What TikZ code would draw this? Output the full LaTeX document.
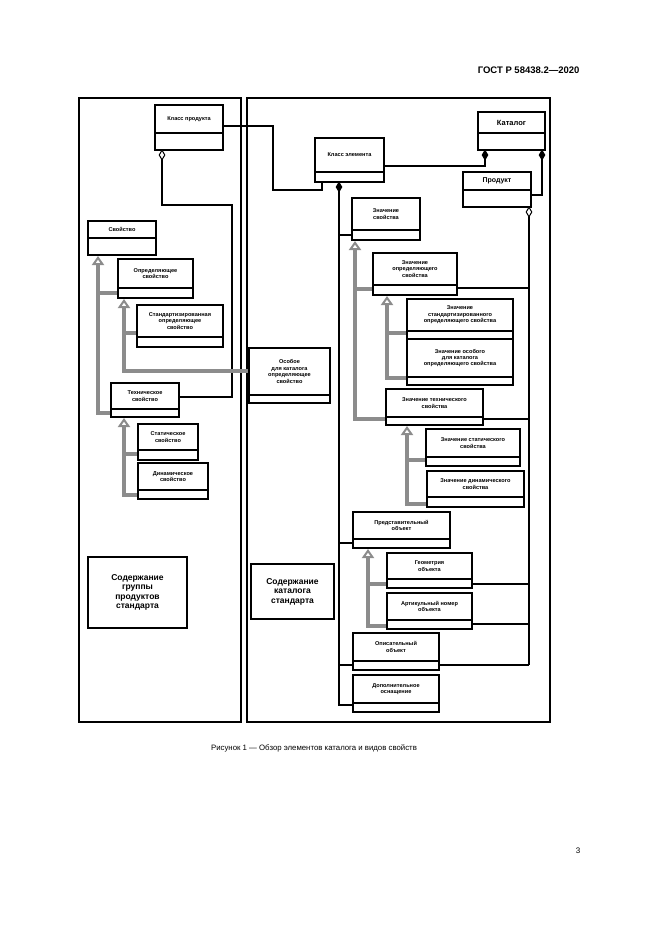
\documentclass[tikz,border=0pt]{standalone}
\usepackage{fontspec}
\setmainfont{Liberation Sans}
\usetikzlibrary{arrows.meta,shapes.geometric}
\begin{document}
\begin{tikzpicture}[x=1pt,y=-1pt,
  cls/.style={draw,line width=1.6pt,inner sep=0pt,fill=white},
  txt/.style={font=\bfseries\fontsize{5.6}{6.4}\selectfont,align=center,inner sep=0pt},
  frame/.style={draw,line width=1.6pt},
  ln/.style={line width=1.4pt},
  gen/.style={draw=black!45,line width=3.2pt,-{Triangle[open,length=9pt,width=12pt,line width=2pt]}},
  gl/.style={draw=black!45,line width=3.2pt},
  fd/.style={diamond,fill=black,draw,inner sep=0pt,minimum width=6pt,minimum height=10pt,line width=0.8pt},
  od/.style={diamond,fill=white,draw,inner sep=0pt,minimum width=6pt,minimum height=10pt,line width=1pt},
  big/.style={font=\bfseries\fontsize{8.5}{9.5}\selectfont,align=center}]
\useasboundingbox (0,0) rectangle (661,935);
\newcommand\ubox[7]{%
\node[cls,minimum width={(#4-#2)*1pt},minimum height={(#5-#3)*1pt}] (#1) at ({(#2+#4)/2},{(#3+#5)/2}) {};
\draw[line width=1.4pt] (#2,#6) -- (#4,#6);
\node[txt] at ({(#2+#4)/2},{(#3+#6)/2}) {#7};}
% header
\node[font=\bfseries\fontsize{9.5}{11}\selectfont,anchor=east] (hdr) at (583,70) {ГОСТ Р 58438.2—2020};
% frames
\node[frame,minimum width=162pt,minimum height=624pt,inner sep=0] (lf) at (160,410) {};
\node[frame,minimum width=303pt,minimum height=624pt,inner sep=0] (rf) at (398.5,410) {};
% connectors (drawn first)
\draw[ln] (223,126) -- (273,126) -- (273,190) -- (322,190) -- (322,182);
\draw[ln] (162,155) -- (162,205) -- (232,205) -- (232,397) -- (178,397);
\draw[ln] (485,155) -- (485,166) -- (384,166);
\draw[ln] (542,155) -- (542,195) -- (531,195);
\draw[ln] (339,182) -- (339,705) -- (353,705);
\draw[ln] (339,235) -- (352,235);
\draw[ln] (339,543) -- (353,543);
\draw[ln] (339,665) -- (529,665);
\draw[ln] (529,207) -- (529,665);
\draw[ln] (457,288) -- (529,288);
\draw[ln] (483,419) -- (529,419);
\draw[ln] (472,584) -- (529,584);
\draw[ln] (472,624) -- (529,624);
% generalisations left
\draw[gl] (111,413) -- (98,413);
\draw[gen] (98,414.5) -- (98,256);
\draw[gl] (98,293) -- (118,293);
\draw[gl] (249,371) -- (124,371);
\draw[gen] (124,372.5) -- (124,299);
\draw[gl] (124,333) -- (137,333);
\draw[gl] (138,495) -- (124,495);
\draw[gen] (124,496.5) -- (124,418);
\draw[gl] (124,454) -- (138,454);
% generalisations right
\draw[gl] (386,419) -- (355,419);
\draw[gen] (355,420.5) -- (355,241);
\draw[gl] (355,289) -- (373,289);
\draw[gl] (407,378) -- (387,378);
\draw[gen] (387,379.5) -- (387,296);
\draw[gl] (387,333) -- (407,333);
\draw[gl] (427,504) -- (407,504);
\draw[gen] (407,505.5) -- (407,426);
\draw[gl] (407,460) -- (426,460);
\draw[gl] (387,626) -- (368,626);
\draw[gen] (368,627.5) -- (368,549);
\draw[gl] (368,584) -- (387,584);
% boxes
\ubox{kp}{155}{105}{223}{150}{133}{Класс продукта}
\ubox{kat}{478}{112}{545}{150}{133}{\fontsize{7.5}{8}\selectfont Каталог}
\ubox{ke}{315}{138}{384}{182}{172}{Класс элемента}
\ubox{pr}{463}{172}{531}{207}{190}{\fontsize{7}{8}\selectfont Продукт}
\ubox{zs}{352}{198}{420}{240}{230}{Значение\\свойства}
\ubox{zo}{373}{253}{457}{295}{285}{Значение\\определяющего\\свойства}
\ubox{zso}{407}{299}{513}{339}{331}{Значение\\стандартизированного\\определяющего свойства}
\ubox{zoo}{407}{339}{513}{385}{377}{Значение особого\\для каталога\\определяющего свойства}
\ubox{zt}{386}{389}{483}{425}{417}{Значение технического\\свойства}
\ubox{zst}{426}{429}{520}{466}{457}{Значение статического\\свойства}
\ubox{zd}{427}{471}{524}{507}{497}{Значение динамического\\свойства}
\ubox{po}{353}{512}{450}{548}{539}{Представительный\\объект}
\ubox{go}{387}{553}{472}{588}{579}{Геометрия\\объекта}
\ubox{an}{387}{593}{472}{629}{620}{Артикульный номер\\объекта}
\ubox{oo}{353}{633}{439}{670}{661}{Описательный\\объект}
\ubox{do}{353}{675}{439}{712}{703}{Дополнительное\\оснащение}
\ubox{sv}{88}{221}{156}{255}{238}{Свойство}
\ubox{os}{118}{259}{193}{298}{288}{Определяющее\\свойство}
\ubox{sos}{137}{305}{223}{347}{337}{Стандартизированная\\определяющее\\свойство}
\ubox{ok}{249}{348}{330}{403}{395}{Особое\\для каталога\\определяющее\\свойство}
\ubox{ts}{111}{383}{179}{417}{409}{Техническое\\свойство}
\ubox{ss}{138}{424}{198}{460}{450}{Статическое\\свойство}
\ubox{ds}{138}{463}{208}{499}{490}{Динамическое\\свойство}
% diamonds
\node[od] (d1) at (162,155) {};
\node[fd] (d2) at (339,187) {};
\node[fd] (d3) at (485,155) {};
\node[fd] (d4) at (542,155) {};
\node[od] (d5) at (529,212) {};
% big labels
\node[draw,line width=1.6pt,minimum width=99pt,minimum height=71pt,big] (cg) at (137.5,592.5) {Содержание\\группы\\продуктов\\стандарта};
\node[draw,line width=1.6pt,minimum width=83pt,minimum height=55pt,big] (cc) at (292.5,591.5) {Содержание\\каталога\\стандарта};
% caption
\node[font=\fontsize{7.8}{9}\selectfont] (cap) at (314,748) {Рисунок 1 — Обзор элементов каталога и видов свойств};
\node[font=\fontsize{8}{9}\selectfont] (pg) at (578,851) {3};
\end{tikzpicture}
\end{document}
